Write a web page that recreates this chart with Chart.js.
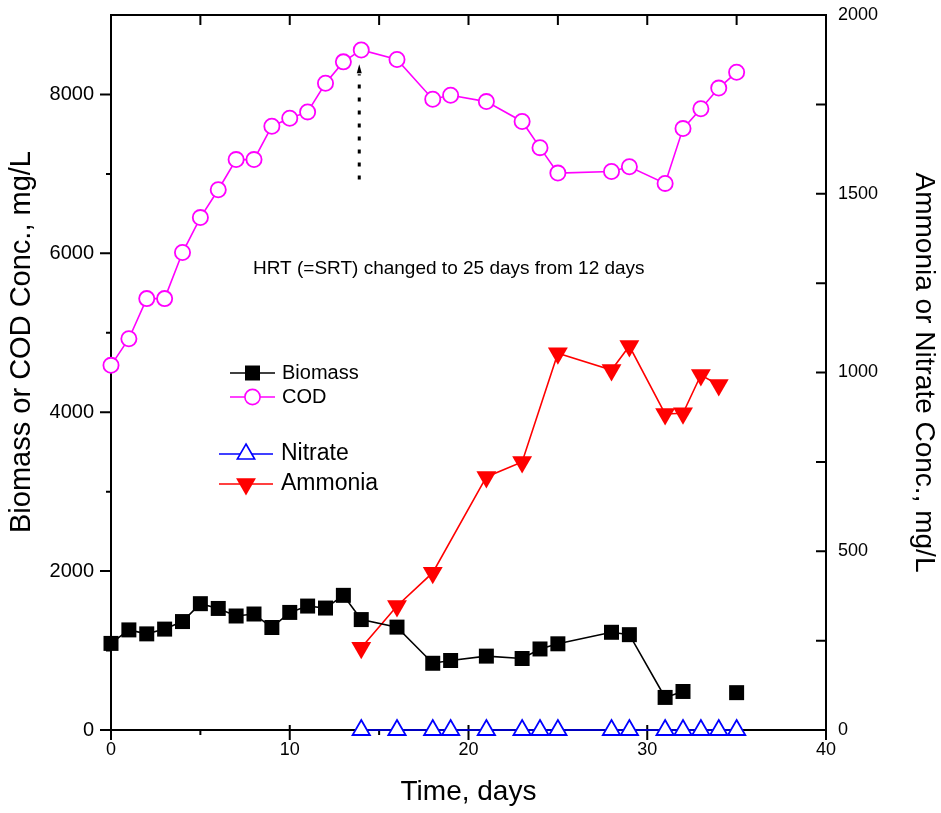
<!DOCTYPE html>
<html>
<head>
<meta charset="utf-8">
<title>Biomass, COD, Nitrate and Ammonia vs time</title>
<script src="https://cdn.jsdelivr.net/npm/chart.js@4.4.0/dist/chart.umd.min.js"></script>
<style>
  html, body { margin: 0; padding: 0; background: #fff; }
  #wrap { width: 941px; height: 813px; }
</style>
</head>
<body>
<div id="wrap"><canvas id="chart"></canvas></div>
<script>
// Values (time in days, concentrations in mg/L)
const biomassDays = [0, 1, 2, 3, 4, 5, 6, 7, 8, 9, 10, 11, 12, 13, 14, 16, 18, 19, 21, 23, 24, 25, 28, 29, 31, 32, 35];
const biomassVals = [1090, 1260, 1210, 1270, 1365, 1590, 1530, 1435, 1460, 1290, 1480, 1560, 1535, 1695, 1390, 1295, 840, 875, 930, 900, 1020, 1085, 1230, 1200, 410, 485, 470];
const biomassBreakAfter = 32; // no connecting line after this day

const codDays = [0, 1, 2, 3, 4, 5, 6, 7, 8, 9, 10, 11, 12, 13, 14, 16, 18, 19, 21, 23, 24, 25, 28, 29, 31, 32, 33, 34, 35];
const codVals = [4590, 4925, 5430, 5430, 6010, 6450, 6800, 7180, 7180, 7600, 7700, 7780, 8140, 8410, 8560, 8440, 7940, 7990, 7910, 7660, 7330, 7010, 7030, 7090, 6880, 7570, 7820, 8080, 8280];

const nitrateDays = [14, 16, 18, 19, 21, 23, 24, 25, 28, 29, 31, 32, 33, 34, 35];
const nitrateVals = [0, 0, 0, 0, 0, 0, 0, 0, 0, 0, 0, 0, 0, 0, 0];

const ammoniaDays = [14, 16, 18, 21, 23, 25, 28, 29, 31, 32, 33, 34];
const ammoniaVals = [230, 347, 440, 708, 750, 1054, 1007, 1074, 884, 886, 993, 965];

// HRT change marker (dotted arrow at day 14, left-axis units)
const hrtDay = 14;
const hrtFrom = 6930;
const hrtTo = 8380;
const hrtText = 'HRT (=SRT) changed to 25 days from 12 days';

const FONT = 'Arial, "Liberation Sans", Helvetica, sans-serif';

function pts(xs, ys) {
    return xs.map((x, i) => ({ x: x, y: ys[i] }));
}

// Frame + Origin-style ticks
const frameAndTicks = {
    id: 'frameAndTicks',
    beforeDatasetsDraw(chart) {
        const { ctx, chartArea: a, scales } = chart;
        ctx.save();
        ctx.strokeStyle = '#000';
        ctx.lineWidth = 2;
        ctx.strokeRect(a.left, a.top, a.right - a.left, a.bottom - a.top);
        ctx.beginPath();
        // bottom (outward) and top (inward)
        for (let v = 0; v <= 40; v += 5) {
            const px = scales.x.getPixelForValue(v);
            const major = v % 10 === 0;
            ctx.moveTo(px, a.bottom - (major ? 5 : 0));
            ctx.lineTo(px, a.bottom + (major ? 10 : 5));
            ctx.moveTo(px, a.top);
            ctx.lineTo(px, a.top + 10);
        }
        // left (outward)
        for (let v = 0; v < 9000; v += 1000) {
            const py = scales.y.getPixelForValue(v);
            ctx.moveTo(a.left, py);
            ctx.lineTo(a.left - (v % 2000 === 0 ? 11 : 5), py);
        }
        // right (inward)
        for (let v = 0; v <= 2000; v += 250) {
            const py = scales.y2.getPixelForValue(v);
            ctx.moveTo(a.right, py);
            ctx.lineTo(a.right - 10, py);
        }
        ctx.stroke();
        ctx.restore();
    },
    afterDraw(chart) {
        const { ctx, scales } = chart;
        ctx.save();

        // left axis title
        ctx.fillStyle = '#000';
        ctx.font = '29px ' + FONT;
        ctx.textAlign = 'center';
        ctx.textBaseline = 'middle';
        ctx.translate(22, 342);
        ctx.rotate(-Math.PI / 2);
        ctx.fillText('Biomass or COD Conc., mg/L', 0, 0);
        ctx.setTransform(1, 0, 0, 1, 0, 0);

        // dotted arrow
        const ax = scales.x.getPixelForValue(hrtDay) - 2;
        const y0 = scales.y.getPixelForValue(hrtFrom);
        const y1 = scales.y.getPixelForValue(hrtTo);
        ctx.strokeStyle = '#000';
        ctx.lineWidth = 3;
        ctx.setLineDash([4, 9]);
        ctx.beginPath();
        ctx.moveTo(ax, y0);
        ctx.lineTo(ax, y1 + 10);
        ctx.stroke();
        ctx.setLineDash([]);
        ctx.beginPath();
        ctx.moveTo(ax, y1);
        ctx.lineTo(ax - 2.5, y1 + 9);
        ctx.lineTo(ax + 2.5, y1 + 9);
        ctx.closePath();
        ctx.fill();

        // annotation
        ctx.font = '19px ' + FONT;
        ctx.textAlign = 'left';
        ctx.fillText(hrtText, 253, 269);

        // legend groups
        const items = [
            { ds: 0, x1: 230, x2: 275, y: 373, tx: 282, size: 20 },
            { ds: 1, x1: 230, x2: 275, y: 397, tx: 282, size: 20 },
            { ds: 3, x1: 219, x2: 273, y: 454, tx: 281, size: 23 },
            { ds: 2, x1: 219, x2: 273, y: 484, tx: 281, size: 23 }
        ];
        items.forEach(it => {
            const d = chart.data.datasets[it.ds];
            const xm = (it.x1 + it.x2) / 2;
            ctx.strokeStyle = d.borderColor;
            ctx.lineWidth = d.borderWidth;
            ctx.beginPath();
            ctx.moveTo(it.x1, it.y);
            ctx.lineTo(it.x2, it.y);
            ctx.stroke();
            ctx.fillStyle = d.pointBackgroundColor;
            ctx.strokeStyle = d.pointBorderColor;
            Chart.helpers.drawPoint(ctx, {
                pointStyle: d.pointStyle,
                rotation: d.pointRotation || 0,
                radius: d.pointRadius,
                borderWidth: d.pointBorderWidth
            }, xm, it.y);
            ctx.fillStyle = '#000';
            ctx.font = it.size + 'px ' + FONT;
            ctx.textBaseline = 'middle';
            ctx.fillText(d.label, it.tx, it.y);
        });
        ctx.restore();
    }
};

function fixVertical(width) {
    return s => {
        s.width = width;
        s.paddingTop = 0;
        s.paddingBottom = 0;
    };
}

new Chart(document.getElementById('chart'), {
    type: 'line',
    data: {
        datasets: [
            {
                label: 'Biomass',
                data: pts(biomassDays, biomassVals),
                yAxisID: 'y',
                borderColor: '#000',
                borderWidth: 1.6,
                pointStyle: 'rect',
                pointRadius: 10.6,
                pointBackgroundColor: '#000',
                pointBorderColor: '#000',
                pointBorderWidth: 0,
                segment: {
                    borderColor: c => c.p0.parsed.x >= biomassBreakAfter ? 'rgba(0,0,0,0)' : '#000'
                },
                clip: false
            },
            {
                label: 'COD',
                data: pts(codDays, codVals),
                yAxisID: 'y',
                borderColor: '#ff00ff',
                borderWidth: 1.6,
                pointStyle: 'circle',
                pointRadius: 7.6,
                pointBackgroundColor: '#fff',
                pointBorderColor: '#ff00ff',
                pointBorderWidth: 1.8,
                clip: false
            },
            {
                label: 'Ammonia',
                data: pts(ammoniaDays, ammoniaVals),
                yAxisID: 'y2',
                borderColor: '#ff0000',
                borderWidth: 1.6,
                pointStyle: 'triangle',
                pointRotation: 180,
                pointRadius: 11.5,
                pointBackgroundColor: '#ff0000',
                pointBorderColor: '#ff0000',
                pointBorderWidth: 0,
                clip: false
            },
            {
                label: 'Nitrate',
                data: pts(nitrateDays, nitrateVals),
                yAxisID: 'y2',
                borderColor: '#0000ff',
                borderWidth: 1.6,
                pointStyle: 'triangle',
                pointRadius: 10,
                pointBackgroundColor: '#fff',
                pointBorderColor: '#0000ff',
                pointBorderWidth: 1.8,
                clip: false
            }
        ]
    },
    options: {
        responsive: true,
        maintainAspectRatio: false,
        animation: false,
        events: [],
        layout: { padding: { top: 15, left: 0, right: 0, bottom: 0 } },
        plugins: {
            legend: { display: false },
            tooltip: { enabled: false }
        },
        scales: {
            x: {
                type: 'linear',
                position: 'bottom',
                min: 0,
                max: 40,
                grid: { display: false, drawTicks: false },
                border: { display: false },
                ticks: { stepSize: 10, padding: 9, color: '#000', font: { family: FONT, size: 18 } },
                title: {
                    display: true,
                    text: 'Time, days',
                    color: '#000',
                    font: { family: FONT, size: 28 },
                    padding: { top: 0, bottom: 4 }
                },
                afterFit: s => {
                    s.height = 83;
                    s.paddingLeft = 0;
                    s.paddingRight = 0;
                }
            },
            y: {
                position: 'left',
                min: 0,
                max: 9000,
                grid: { display: false, drawTicks: false },
                border: { display: false },
                ticks: {
                    stepSize: 1000,
                    padding: 17,
                    color: '#000',
                    font: { family: FONT, size: 20 },
                    callback: v => (v % 2000 === 0 ? String(v) : '')
                },
                afterFit: fixVertical(111)
            },
            y2: {
                position: 'right',
                min: 0,
                max: 2000,
                grid: { display: false, drawTicks: false },
                border: { display: false },
                ticks: {
                    stepSize: 500,
                    padding: 12,
                    color: '#000',
                    font: { family: FONT, size: 18 },
                    callback: v => String(v)
                },
                title: {
                    display: true,
                    text: 'Ammonia or Nitrate Conc., mg/L',
                    color: '#000',
                    font: { family: FONT, size: 28 },
                    padding: { top: 0, bottom: 0 }
                },
                afterFit: fixVertical(115)
            }
        }
    },
    plugins: [frameAndTicks]
});
</script>
</body>
</html>
